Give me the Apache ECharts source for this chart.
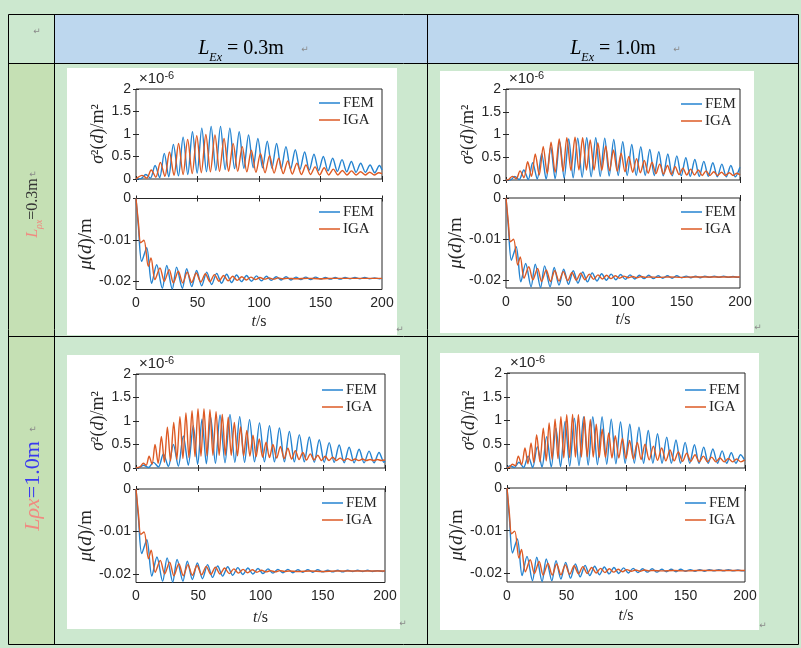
<!DOCTYPE html>
<html>
<head>
<meta charset="utf-8">
<script src="https://cdn.jsdelivr.net/npm/echarts@6/dist/echarts.min.js"></script>
<style>
  html, body { margin: 0; padding: 0; background: #cce8cf; }
  #chart { width: 801px; height: 648px; }
</style>
</head>
<body>
<div id="chart"></div>
<script>
// ---- data (variance in 1e-6 m^2, mean in m, t in s) ----
const xTicks = [0, 50, 100, 150, 200];
const varTicks = [0, 0.5, 1, 1.5, 2];
const meanTicks = [0, -0.01, -0.02];
const seriesNames = ['FEM', 'IGA'];
const colLabels = ['0.3m', '1.0m'];
const rowLabels = ['0.3m', '1.0m'];

// L_rho=0.3, L_E=0.3
const varFemA = [[0,0],[4.2,0.01],[8,0.1],[11.7,0.02],[15.5,0.3],[19.2,0.03],[23,0.57],[26.6,0.05],[30.4,0.77],[34.5,0.07],[38.3,0.93],[42.1,0.1],[45.9,1.05],[49.7,0.13],[53.5,1.13],[57.3,0.16],[61.1,1.17],[64.9,0.19],[68.7,1.17],[72.5,0.21],[76.3,1.13],[80.1,0.23],[83.9,1.05],[87.7,0.24],[91.5,0.98],[95.3,0.25],[99.1,0.9],[102.9,0.25],[106.7,0.84],[110.5,0.24],[114.3,0.79],[118.1,0.23],[121.9,0.72],[125.7,0.22],[129.5,0.65],[133.3,0.21],[137.1,0.6],[140.9,0.2],[144.7,0.55],[148.5,0.19],[152.3,0.5],[156.1,0.18],[159.9,0.46],[163.7,0.17],[167.5,0.43],[171.3,0.16],[175.1,0.39],[178.9,0.15],[182.7,0.35],[186.5,0.15],[190.3,0.31],[194.1,0.14],[197.9,0.3],[200,0.2]];
const varIgaA = [[0,0],[5,0.08],[8.7,0.02],[12.4,0.2],[16.1,0.04],[19.8,0.37],[23.5,0.06],[27.2,0.6],[30.9,0.08],[34.6,0.79],[38.3,0.1],[42,0.88],[45.7,0.12],[49.4,0.96],[53.1,0.14],[56.8,0.99],[60.5,0.16],[64.2,0.98],[67.9,0.17],[71.6,0.9],[75.3,0.17],[79,0.79],[82.7,0.17],[86.4,0.72],[90.1,0.16],[93.8,0.64],[97.5,0.15],[101.2,0.57],[104.9,0.14],[108.6,0.52],[112.3,0.13],[116,0.46],[119.7,0.12],[123.4,0.4],[127.1,0.11],[130.8,0.35],[134.5,0.1],[138.2,0.31],[141.9,0.1],[145.6,0.27],[149.3,0.09],[153,0.25],[156.7,0.09],[160.4,0.22],[164.1,0.09],[167.8,0.19],[171.5,0.09],[175.2,0.18],[178.9,0.09],[182.6,0.16],[186.3,0.09],[190,0.15],[193.7,0.09],[197.4,0.14],[200,0.12]];

// L_rho=0.3, L_E=1.0
const varFemB = [[0,0],[3.7,0],[7.5,0.08],[11.3,0.01],[15.2,0.22],[19,0.01],[22.8,0.38],[26.7,0.02],[30.5,0.58],[34.3,0.02],[38.2,0.72],[42,0.03],[45.9,0.84],[49.7,0.04],[53.6,0.9],[57.4,0.05],[61.3,0.92],[65.1,0.06],[69,0.93],[72.8,0.07],[76.7,0.93],[80.5,0.08],[84.4,0.92],[88.2,0.09],[92.1,0.89],[95.9,0.1],[99.8,0.84],[103.6,0.1],[107.5,0.78],[111.3,0.1],[115.2,0.73],[119,0.1],[122.9,0.67],[126.7,0.1],[130.6,0.62],[134.4,0.09],[138.3,0.57],[142.1,0.09],[146,0.53],[149.8,0.09],[153.7,0.49],[157.5,0.08],[161.4,0.45],[165.2,0.08],[169.1,0.41],[172.9,0.08],[176.8,0.38],[180.6,0.07],[184.5,0.35],[188.3,0.07],[192.2,0.32],[196,0.07],[199.9,0.28]];
const varIgaB = [[0,0],[2.2,0.01],[5.5,0.08],[8.8,0.03],[12,0.2],[15.3,0.05],[18.5,0.4],[21.8,0.08],[25,0.57],[28.4,0.11],[31.8,0.74],[35.2,0.14],[38.5,0.83],[42,0.17],[45.5,0.9],[48.8,0.19],[52,0.93],[55.5,0.21],[59,0.94],[62.3,0.22],[65.5,0.93],[68.8,0.22],[72,0.88],[75.3,0.22],[78.5,0.82],[81.9,0.21],[85.2,0.75],[88.5,0.2],[91.8,0.66],[95.1,0.19],[98.4,0.59],[101.7,0.18],[105,0.52],[108.3,0.17],[111.6,0.47],[114.9,0.16],[118.2,0.43],[121.5,0.15],[124.8,0.39],[128.1,0.14],[131.4,0.35],[134.7,0.13],[138,0.32],[141.3,0.12],[144.6,0.29],[147.9,0.12],[151.2,0.26],[154.5,0.11],[157.8,0.24],[161.1,0.11],[164.4,0.22],[167.7,0.1],[171,0.2],[174.3,0.1],[177.6,0.18],[180.9,0.1],[184.2,0.17],[187.5,0.1],[190.8,0.16],[194.1,0.1],[197.4,0.15],[200,0.11]];

// L_rho=1.0, L_E=0.3
const varFemC = [[0,0],[2,0],[6,0.06],[10,0.01],[14,0.12],[18,0.02],[22,0.3],[26,0.03],[30,0.5],[34,0.04],[38,0.68],[42,0.06],[46,0.9],[49.5,0.08],[53,1.04],[56.5,0.09],[60,1.08],[63.8,0.1],[67.5,1.13],[71.5,0.11],[75.5,1.14],[79.4,0.12],[83.3,1.09],[87.2,0.12],[91.2,1.03],[95.2,0.13],[99.2,0.96],[103.2,0.13],[107.2,0.9],[111.2,0.13],[115.2,0.85],[119.2,0.13],[123.2,0.78],[127.2,0.13],[131.2,0.71],[135.2,0.13],[139.2,0.66],[143.2,0.12],[147.2,0.6],[151.2,0.12],[155.2,0.54],[159.2,0.12],[163.2,0.49],[167.2,0.11],[171.2,0.44],[175.2,0.11],[179.2,0.4],[183.2,0.11],[187.2,0.36],[191.2,0.11],[195.2,0.33],[199.2,0.12],[200,0.15]];
const varIgaC = [[0,0],[3.5,0.03],[5.9,0.1],[8.2,0.06],[10.5,0.25],[12.9,0.08],[15.3,0.5],[17.8,0.1],[20.4,0.67],[22.8,0.12],[25.2,0.87],[27.7,0.15],[30.3,0.97],[32.8,0.18],[35.3,1.09],[37.7,0.2],[40.1,1.17],[42.5,0.22],[45,1.22],[47.4,0.24],[49.8,1.26],[52.2,0.25],[54.6,1.26],[57,0.26],[59.4,1.24],[61.8,0.27],[64.3,1.2],[66.8,0.27],[69.3,1.14],[71.7,0.27],[74.1,1.08],[76.5,0.27],[79,0.97],[81.5,0.26],[84,0.88],[86.5,0.26],[89,0.8],[91.5,0.25],[94,0.7],[96.5,0.24],[99,0.62],[101.7,0.23],[104.5,0.55],[107.2,0.22],[110,0.5],[113,0.21],[116,0.46],[119,0.2],[122,0.42],[125,0.19],[128,0.37],[131,0.18],[134,0.33],[137,0.17],[140,0.3],[143,0.17],[146,0.27],[149,0.16],[152,0.25],[155,0.16],[158,0.23],[161,0.16],[164,0.21],[167,0.16],[170,0.2],[173,0.16],[176,0.19],[179,0.16],[182,0.19],[185,0.16],[188,0.18],[191,0.16],[194,0.18],[197,0.16],[200,0.17]];

// L_rho=1.0, L_E=1.0
const varFemD = [[0,0],[2.5,0.05],[6.2,0.01],[10,0.12],[13.9,0.01],[17.8,0.25],[21.6,0.01],[25.5,0.45],[29.4,0.02],[33.3,0.66],[37.2,0.02],[41.1,0.84],[45,0.03],[48.8,0.98],[52.7,0.04],[56.6,1.05],[60.5,0.05],[64.4,1.08],[68.2,0.06],[72.1,1.08],[76,0.07],[79.9,1.08],[83.8,0.08],[87.6,1.03],[91.5,0.09],[95.4,0.97],[99.3,0.1],[103.2,0.92],[107,0.1],[110.9,0.86],[114.8,0.1],[118.7,0.79],[122.6,0.1],[126.5,0.72],[130.3,0.1],[134.2,0.65],[138.1,0.1],[142,0.59],[145.8,0.1],[149.7,0.54],[153.6,0.1],[157.5,0.49],[161.4,0.1],[165.3,0.44],[169.1,0.1],[173,0.4],[176.9,0.1],[180.8,0.36],[184.6,0.1],[188.5,0.32],[192.4,0.1],[196.3,0.28],[200,0.15]];
const varIgaD = [[0,0],[2.2,0.02],[4.5,0.08],[7,0.05],[9.5,0.25],[12.3,0.07],[15.1,0.42],[17.6,0.09],[20.2,0.53],[22.5,0.11],[24.9,0.7],[27.7,0.13],[30.5,0.84],[33,0.15],[35.4,0.95],[37.9,0.18],[40.4,1.03],[42.8,0.2],[45.3,1.08],[47.7,0.21],[50.2,1.12],[52.6,0.22],[55.1,1.13],[57.5,0.23],[60,1.12],[62.5,0.23],[65,1.08],[67.5,0.23],[70,1.02],[72.5,0.23],[75,0.92],[77.5,0.22],[80,0.82],[82.7,0.22],[85.5,0.74],[88.2,0.21],[91,0.68],[94,0.21],[97,0.63],[100,0.2],[103,0.58],[106.2,0.19],[109.5,0.54],[112.7,0.18],[116,0.5],[119.5,0.17],[123,0.46],[126.5,0.16],[130,0.42],[133.5,0.15],[137,0.38],[140.5,0.15],[144,0.34],[147.5,0.14],[151,0.31],[154.5,0.14],[158,0.28],[161.5,0.13],[165,0.25],[168.5,0.13],[172,0.23],[175.5,0.13],[179,0.21],[182.5,0.13],[186,0.2],[189.5,0.13],[193,0.19],[196.5,0.13],[200,0.17]];

// mean displacement, the four cells look the same
const meanFem = [[0,0],[2,-0.007],[4.6,-0.0152],[8.7,-0.0119],[12.7,-0.0205],[16.8,-0.016],[21.4,-0.0217],[25,-0.0162],[29.5,-0.0219],[33,-0.0166],[37.7,-0.0217],[41.2,-0.017],[45.3,-0.0213],[49.3,-0.0174],[53.4,-0.0211],[57.5,-0.0178],[61.5,-0.0208],[65.6,-0.0181],[69.6,-0.0205],[73.7,-0.0183],[77.7,-0.0203],[81.8,-0.0185],[85.8,-0.0201],[89.9,-0.0186],[93.9,-0.02],[98,-0.0187],[102,-0.0199],[106,-0.0188],[110,-0.0198],[114,-0.0189],[118,-0.0197],[122,-0.0189],[126,-0.0197],[130,-0.019],[134,-0.0196],[138,-0.019],[142,-0.0196],[146,-0.019],[150,-0.0195],[154,-0.0191],[158,-0.0195],[162,-0.0191],[166,-0.0195],[170,-0.0191],[174,-0.0194],[178,-0.0191],[182,-0.0194],[186,-0.0191],[190,-0.0194],[194,-0.0192],[198,-0.0194],[200,-0.0193]];
const meanIga = [[0,0],[2,-0.006],[3.8,-0.0107],[6.5,-0.0101],[10,-0.0164],[12.2,-0.0144],[15.4,-0.0196],[19.5,-0.0168],[23,-0.02],[27,-0.0172],[30.4,-0.0204],[34.4,-0.0176],[38,-0.0204],[41.7,-0.0178],[45.3,-0.0203],[49,-0.018],[52.7,-0.0202],[56.4,-0.0182],[60.1,-0.0201],[63.8,-0.0184],[67.5,-0.02],[71.2,-0.0186],[74.9,-0.0199],[78.6,-0.0188],[82.3,-0.0198],[86,-0.0189],[89.7,-0.0197],[93.4,-0.019],[97.1,-0.0196],[100.8,-0.0191],[104.5,-0.0195],[108.2,-0.0192],[111.9,-0.0195],[115.6,-0.0192],[119.3,-0.0194],[123,-0.0193],[130,-0.0194],[140,-0.0193],[150,-0.0194],[160,-0.0193],[170,-0.0193],[180,-0.0193],[190,-0.0193],[200,-0.0193]];

// ---- layout ----
const FEM_COLOR = '#2483d0';
const IGA_COLOR = '#dd5a24';
const INK = '#262626';
const SERIF = 'Liberation Serif';
const SANS = 'Liberation Sans';

// box = [left, top, width, height]; legend = [left, centre y of first row]
const plots = [
    {kind: 'var', fem: varFemA, iga: varIgaA, box: [136, 89, 246, 90], legend: [319, 103], yGap: 29},
    {kind: 'mean', fem: meanFem, iga: meanIga, box: [136, 198.5, 246, 91], legend: [319, 212], yGap: 35, xGap: 24},
    {kind: 'var', fem: varFemB, iga: varIgaB, box: [506, 89, 234, 91], legend: [681, 104], yGap: 28},
    {kind: 'mean', fem: meanFem, iga: meanIga, box: [506, 198, 234, 90], legend: [681, 212], yGap: 34, xGap: 24},
    {kind: 'var', fem: varFemC, iga: varIgaC, box: [136, 374, 249, 94], legend: [322, 390], yGap: 29},
    {kind: 'mean', fem: meanFem, iga: meanIga, box: [136, 489, 249, 93.5], legend: [322, 503], yGap: 36, xGap: 27},
    {kind: 'var', fem: varFemD, iga: varIgaD, box: [507, 373, 238, 95], legend: [685, 390], yGap: 27},
    {kind: 'mean', fem: meanFem, iga: meanIga, box: [507, 488, 238, 94], legend: [685, 503], yGap: 35, xGap: 26}
];

const grids = [], xAxes = [], yAxes = [], series = [], legends = [];
const tickStyle = {inside: true, length: 3, lineStyle: {color: INK, width: 1}};
const labelFmt = v => v === 0 ? '0' : String(v);

plots.forEach((p, i) => {
    const isVar = p.kind === 'var';
    const yTicks = isVar ? varTicks : meanTicks;
    const yFont = isVar ? 18 : 19;
    grids.push({
        left: p.box[0], top: p.box[1], width: p.box[2], height: p.box[3],
        show: true, borderColor: INK, borderWidth: 1, backgroundColor: 'transparent'
    });
    xAxes.push({
        gridIndex: i, type: 'value', min: 0, max: 200, position: 'bottom',
        axisLine: {show: false},
        axisTick: Object.assign({customValues: xTicks}, tickStyle),
        axisLabel: {show: !isVar, customValues: xTicks, formatter: labelFmt, fontFamily: SANS, fontSize: 14, color: INK, margin: 7},
        splitLine: {show: false},
        name: isVar ? '' : '{i|t}/s',
        nameLocation: 'middle',
        nameGap: p.xGap || 24,
        nameTextStyle: {fontFamily: SERIF, fontSize: 16, color: INK,
            rich: {i: {fontFamily: SERIF, fontSize: 16, fontStyle: 'italic', color: INK}}}
    });
    xAxes.push({
        gridIndex: i, type: 'value', min: 0, max: 200, position: 'top',
        axisLine: {show: false},
        axisTick: Object.assign({customValues: xTicks}, tickStyle),
        axisLabel: {show: false}, splitLine: {show: false}
    });
    yAxes.push({
        gridIndex: i, type: 'value', position: 'left',
        min: isVar ? 0 : -0.022, max: isVar ? 2 : 0,
        axisLine: {show: false},
        axisTick: Object.assign({customValues: yTicks}, tickStyle),
        axisLabel: {customValues: yTicks, formatter: labelFmt, fontFamily: SANS, fontSize: 14, color: INK, margin: 5},
        splitLine: {show: false},
        name: isVar ? '{i|σ}²({i|d})/m²' : '{i|μ}({i|d})/m',
        nameLocation: 'middle',
        nameGap: p.yGap,
        nameTextStyle: {fontFamily: SERIF, fontSize: yFont, color: INK,
            rich: {i: {fontFamily: SERIF, fontSize: yFont, fontStyle: 'italic', color: INK}}}
    });
    yAxes.push({
        gridIndex: i, type: 'value', position: 'right',
        min: isVar ? 0 : -0.022, max: isVar ? 2 : 0,
        axisLine: {show: false},
        axisTick: Object.assign({customValues: yTicks}, tickStyle),
        axisLabel: {show: false}, splitLine: {show: false}
    });
    [['FEM', p.fem, FEM_COLOR, 2], ['IGA', p.iga, IGA_COLOR, 3]].forEach(([name, data, color, z]) => {
        series.push({
            type: 'line', name, data, z,
            xAxisIndex: 2 * i, yAxisIndex: 2 * i,
            symbol: 'none', smooth: 0.3,
            lineStyle: {color, width: 1.4},
            itemStyle: {color},
            animation: false
        });
    });
    legends.push({
        left: p.legend[0], top: p.legend[1] - 7.5,
        orient: 'vertical', padding: 0, itemGap: 2,
        icon: 'rect', itemWidth: 21, itemHeight: 1.5,
        selectedMode: false,
        data: seriesNames,
        textStyle: {fontFamily: SERIF, fontSize: 15, color: INK, lineHeight: 15, padding: [0, 0, 0, -2]}
    });
});

// ---- the Word table around the figures ----
const graphic = [
    {type: 'rect', z: -20, shape: {x: 0, y: 0, width: 801, height: 648}, style: {fill: '#cce8cf'}},
    {type: 'rect', z: -19, shape: {x: 54, y: 14, width: 744, height: 49}, style: {fill: '#bdd7ee'}},
    {type: 'rect', z: -19, shape: {x: 8, y: 63, width: 46, height: 581}, style: {fill: '#c5e0b4'}},
    {type: 'rect', z: -18, shape: {x: 67, y: 68, width: 330, height: 267}, style: {fill: '#ffffff'}},
    {type: 'rect', z: -18, shape: {x: 440, y: 71, width: 314, height: 262}, style: {fill: '#ffffff'}},
    {type: 'rect', z: -18, shape: {x: 67, y: 355, width: 333, height: 274}, style: {fill: '#ffffff'}},
    {type: 'rect', z: -18, shape: {x: 440, y: 353, width: 319, height: 277}, style: {fill: '#ffffff'}},
    {type: 'rect', z: -17, shape: {x: 8.5, y: 14.5, width: 790, height: 630}, style: {fill: 'none', stroke: '#000', lineWidth: 1}},
    {type: 'line', z: -17, shape: {x1: 54.5, y1: 14, x2: 54.5, y2: 645}, style: {stroke: '#000', lineWidth: 1}},
    {type: 'line', z: -17, shape: {x1: 427.5, y1: 14, x2: 427.5, y2: 645}, style: {stroke: '#000', lineWidth: 1}},
    {type: 'line', z: -17, shape: {x1: 8, y1: 63.5, x2: 799, y2: 63.5}, style: {stroke: '#000', lineWidth: 1}},
    {type: 'line', z: -17, shape: {x1: 8, y1: 336.5, x2: 799, y2: 336.5}, style: {stroke: '#000', lineWidth: 1}}
];

// column headers  L_Ex = ...
const headRich = {
    L: {fontFamily: SERIF, fontStyle: 'italic', fontSize: 20, lineHeight: 30, fill: '#000'},
    s: {fontFamily: SERIF, fontStyle: 'italic', fontSize: 12, lineHeight: 12, verticalAlign: 'bottom', fill: '#000'},
    n: {fontFamily: SERIF, fontSize: 20, lineHeight: 30, fill: '#000'}
};
[241, 613].forEach((cx, k) => {
    graphic.push({type: 'text', z: 10, x: cx, y: 49,
        style: {text: '{L|L}{s|Ex}{n| = ' + colLabels[k] + '}', align: 'center', verticalAlign: 'middle', rich: headRich}});
});

// row headers, rotated
graphic.push({type: 'text', z: 10, x: 33, y: 208, rotation: Math.PI / 2,
    style: {text: '{L|L}{s|ρx}{n|=' + rowLabels[0] + '}', align: 'center', verticalAlign: 'middle',
        rich: {
            L: {fontFamily: SERIF, fontStyle: 'italic', fontSize: 16, lineHeight: 22, fill: '#f08a80'},
            s: {fontFamily: SERIF, fontStyle: 'italic', fontSize: 10, lineHeight: 10, verticalAlign: 'bottom', fill: '#f08a80'},
            n: {fontFamily: SERIF, fontSize: 16, lineHeight: 22, fill: '#333'}
        }}});
graphic.push({type: 'text', z: 10, x: 33, y: 486, rotation: Math.PI / 2,
    style: {text: '{L|Lρx}{n|=' + rowLabels[1] + '}', align: 'center', verticalAlign: 'middle',
        rich: {
            L: {fontFamily: SERIF, fontStyle: 'italic', fontSize: 22, fill: '#f08a80'},
            n: {fontFamily: SERIF, fontSize: 22, fill: '#3a3af0'}
        }}});

// x10^-6 exponent labels on the variance plots
plots.filter(p => p.kind === 'var').forEach(p => {
    graphic.push({type: 'text', z: 10, x: p.box[0] + 3, y: p.box[1] - 2,
        style: {text: '{a|×10}{b|-6}', align: 'left', verticalAlign: 'bottom',
            rich: {
                a: {fontFamily: SANS, fontSize: 15, lineHeight: 17, fill: INK},
                b: {fontFamily: SANS, fontSize: 11, lineHeight: 11, verticalAlign: 'top', fill: INK}
            }}});
});

// paragraph marks
[[37, 32], [305, 50], [677, 50], [400, 330], [758, 328], [403, 624], [763, 626], [33, 175], [33, 430]].forEach(([x, y]) => {
    graphic.push({type: 'text', z: 10, x, y,
        style: {text: '↵', fontFamily: 'DejaVu Sans', fontSize: 9, fill: '#8a8a8a', align: 'center', verticalAlign: 'middle'}});
});

const chart = echarts.init(document.getElementById('chart'));
chart.setOption({
    animation: false,
    backgroundColor: '#cce8cf',
    grid: grids,
    xAxis: xAxes,
    yAxis: yAxes,
    legend: legends,
    series: series,
    graphic: graphic
});
</script>
</body>
</html>
